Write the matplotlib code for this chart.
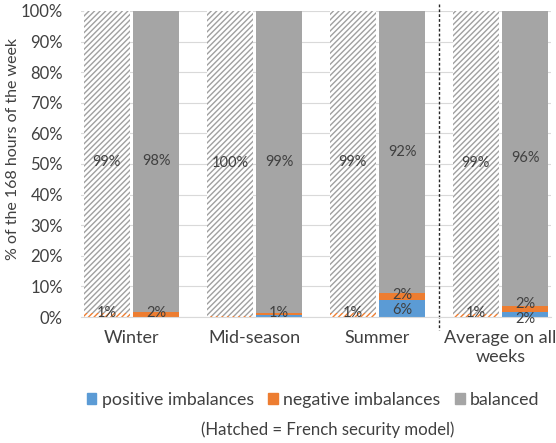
import matplotlib.pyplot as plt
from matplotlib.patches import Patch

plt.rcParams['font.family'] = ['Lato', 'DejaVu Sans']
plt.rcParams['hatch.linewidth'] = 1.0

# data (in %)
seasons = ["Winter", "Mid-season", "Summer", "Average on all\nweeks"]

# hatched bars = French security model
fr_neg = [1.2, 0.4, 1.2, 0.9]
fr_bal = [98.8, 99.6, 98.8, 99.1]
fr_neg_lbl = ["1%", "", "1%", "1%"]
fr_bal_lbl = ["99%", "100%", "99%", "99%"]

# solid bars
pos = [0.0, 0.6, 5.6, 1.8]
neg = [1.8, 0.6, 2.2, 1.8]
bal = [98.2, 98.8, 92.2, 96.4]
pos_lbl = ["", "", "6%", "2%"]
neg_lbl = ["2%", "1%", "2%", "2%"]
bal_lbl = ["98%", "99%", "92%", "96%"]

blue = "#5B9BD5"
orange = "#ED7D31"
grey = "#A5A5A5"
txt = "#404040"

fig = plt.figure(figsize=(5.56, 4.43), dpi=100)
ax = fig.add_axes([0.1457, 0.2844, 0.845, 0.691])

x = list(range(len(seasons)))
w = 0.37
off = 0.20
xh = [i - off for i in x]
xs = [i + off for i in x]

# hatched bars
ax.bar(xh, fr_neg, w, color="white", edgecolor=orange, hatch="//////", linewidth=0)
ax.bar(xh, fr_bal, w, bottom=fr_neg, color="white", edgecolor="#A0A0A0", hatch="//////", linewidth=0)

# solid bars
ax.bar(xs, pos, w, color=blue, linewidth=0)
ax.bar(xs, neg, w, bottom=pos, color=orange, linewidth=0)
bot2 = [p + n for p, n in zip(pos, neg)]
ax.bar(xs, bal, w, bottom=bot2, color=grey, linewidth=0)

# labels
fs = 10.5
min_gap = 4.9  # in % units, so two small labels don't collide
for i in x:
    if fr_neg_lbl[i]:
        ax.text(xh[i], max(fr_neg[i] / 2, 1.3), fr_neg_lbl[i], ha="center", va="center", fontsize=fs, color=txt)
    ax.text(xh[i], fr_neg[i] + fr_bal[i] / 2, fr_bal_lbl[i], ha="center", va="center", fontsize=fs, color=txt)
    spread = 0
    if pos_lbl[i] and neg_lbl[i]:
        spread = max(0, (min_gap - (pos[i] + neg[i]) / 2) / 2)
    if pos_lbl[i]:
        ax.text(xs[i], pos[i] / 2 - spread, pos_lbl[i], ha="center", va="center", fontsize=fs, color=txt)
    if neg_lbl[i]:
        ax.text(xs[i], max(pos[i] + neg[i] / 2 + spread, 1.3), neg_lbl[i], ha="center", va="center", fontsize=fs, color=txt)
    ax.text(xs[i], bot2[i] + bal[i] / 2, bal_lbl[i], ha="center", va="center", fontsize=fs, color=txt)

ax.set_xlim(-0.41, 3.41)
ax.set_ylim(0, 100)
ax.set_yticks(range(0, 101, 10))
ax.set_yticklabels([f"{v}%" for v in range(0, 101, 10)])
ax.set_xticks(x)
ax.set_xticklabels(seasons, fontsize=13, color=txt, linespacing=1.25)
ax.tick_params(axis="y", length=0, pad=13, labelsize=12, labelcolor=txt)
ax.tick_params(axis="x", length=0, pad=9)
ax.set_ylabel("% of the 168 hours of the week", fontsize=11.5, color=txt)
ax.yaxis.set_label_coords(-0.13, 0.55)

ax.grid(axis="y", color="#D9D9D9", linewidth=0.8)
ax.set_axisbelow(True)
for s in ["top", "right", "left"]:
    ax.spines[s].set_visible(False)
ax.spines["bottom"].set_color("#D9D9D9")

# separator before the average group
ax.plot([2.5, 2.5], [102.3, -4.2], color="#262626", linewidth=1,
        linestyle=(0, (2, 1.5)), clip_on=False)

handles = [Patch(color=blue, label="positive imbalances"),
           Patch(color=orange, label="negative imbalances"),
           Patch(color=grey, label="balanced")]
fig.legend(handles=handles, loc="center", bbox_to_anchor=(0.563, 0.097), ncol=3,
           frameon=False, fontsize=12.8, handlelength=0.55, handleheight=0.55,
           handletextpad=0.3, columnspacing=0.8, labelcolor=txt,
           borderpad=0, borderaxespad=0)
fig.text(0.59, 0.029, "(Hatched = French security model)", ha="center", va="center",
         fontsize=12.1, color=txt)

fig.savefig("out.png", dpi=100)
